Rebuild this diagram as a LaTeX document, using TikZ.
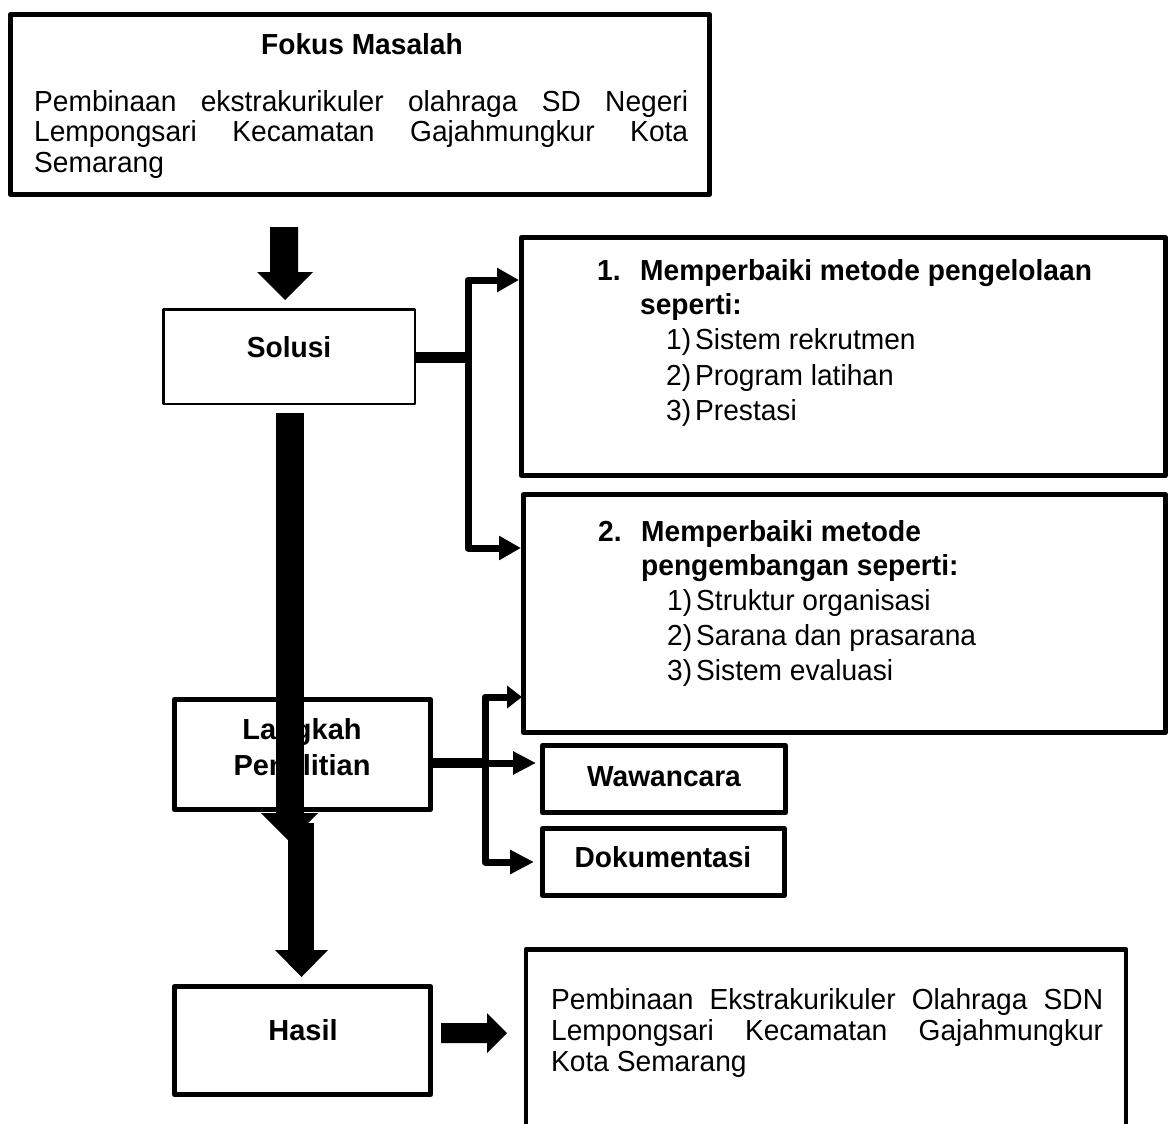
\documentclass[tikz,border=0pt]{standalone}
\usepackage{fontspec}
\setmainfont{Liberation Sans}
\newfontfamily\fstretch[FakeStretch=0.97]{Liberation Sans}
\usetikzlibrary{arrows.meta}
\newcommand\myfa{\fstretch\fontsize{29}{34}\selectfont}
\newcommand\myfb{\fontsize{29}{34}\selectfont}
\tikzset{
  box/.style={draw, line width=5pt, inner sep=0pt, line join=round, fill=white},
  lbl/.style={inner sep=0pt, font=\myfa},
  lblb/.style={inner sep=0pt, font=\myfb\bfseries},
  blk/.style={fill=black, draw=none},
  conn/.style={line width=7pt, line join=round},
}
\begin{document}
\begin{tikzpicture}[x=1pt,y=-1pt]
\useasboundingbox (0,0) rectangle (1171,1124);
\fill[white] (0,0) rectangle (1171,1124);

% boxes
\node[box, minimum width=699pt, minimum height=180pt] (fokus) at (360,104.5) {};
\node[box, line width=2.5pt, minimum width=251.5pt, minimum height=94.5pt] (solusi) at (289,356.5) {};
\node[box, minimum width=644pt, minimum height=238pt] (b1) at (843.5,356.5) {};
\node[box, minimum width=642pt, minimum height=238pt] (b2) at (844.5,613.5) {};
\node[box, minimum width=256pt, minimum height=110pt] (langkah) at (302.5,754.5) {};
\node[box, minimum width=243pt, minimum height=67pt] (waw) at (664,779) {};
\node[box, minimum width=242pt, minimum height=67pt] (dok) at (663.5,862) {};
\node[box, minimum width=256pt, minimum height=108pt] (hasil) at (302.5,1040.5) {};
\node[box, line width=4.5pt, minimum width=600pt, minimum height=220pt, anchor=north] (res) at (826,947) {};

% Fokus text
\node[lbl, anchor=base] (tfokus) at (362,55) {\bfseries Fokus Masalah};
\node[lbl, anchor=base west] (f1) at (34,112) {\makebox[654pt][s]{Pembinaan ekstrakurikuler olahraga SD Negeri}};
\node[lbl, anchor=base west] (f2) at (34,142) {\makebox[654pt][s]{Lempongsari Kecamatan Gajahmungkur Kota}};
\node[lbl, anchor=base west] (f3) at (34,172) {Semarang};

% Solusi
\node[lbl, anchor=base] (tsolusi) at (289,357) {\bfseries Solusi};

% Box 1 text
\node[lbl, anchor=base west] (a1) at (597,280) {\bfseries\makebox[43pt][l]{1.}Memperbaiki metode pengelolaan};
\node[lbl, anchor=base west] (a2) at (640,314) {\bfseries seperti:};
\node[lbl, anchor=base west] (a3) at (666,349) {\makebox[29pt][l]{1)}Sistem rekrutmen};
\node[lbl, anchor=base west] (a4) at (666,385) {\makebox[29pt][l]{2)}Program latihan};
\node[lbl, anchor=base west] (a5) at (666,420) {\makebox[29pt][l]{3)}Prestasi};

% Box 2 text
\node[lbl, anchor=base west] (c1) at (598,541) {\bfseries\makebox[43pt][l]{2.}Memperbaiki metode};
\node[lbl, anchor=base west] (c2) at (641,575) {\bfseries pengembangan seperti:};
\node[lbl, anchor=base west] (c3) at (667,610) {\makebox[29pt][l]{1)}Struktur organisasi};
\node[lbl, anchor=base west] (c4) at (667,645) {\makebox[29pt][l]{2)}Sarana dan prasarana};
\node[lbl, anchor=base west] (c5) at (667,680) {\makebox[29pt][l]{3)}Sistem evaluasi};

% Langkah
\node[lblb, anchor=base] (tl1) at (302,739) {Langkah};
\node[lblb, anchor=base] (tl2) at (302,775) {Penelitian};

% Wawancara, Dokumentasi
\node[lbl, anchor=base] (tw) at (664,786) {\bfseries Wawancara};
\node[lbl, anchor=base] (td) at (663,867) {\bfseries Dokumentasi};

% Hasil
\node[lblb, anchor=base] (th) at (303,1040) {Hasil};

% Result text
\node[lbl, anchor=base west] (r1) at (551,1009) {\makebox[552pt][s]{Pembinaan Ekstrakurikuler Olahraga SDN}};
\node[lbl, anchor=base west] (r2) at (551,1040) {\makebox[552pt][s]{Lempongsari Kecamatan Gajahmungkur}};
\node[lbl, anchor=base west] (r3) at (551,1071) {Kota Semarang};

% block arrow Fokus -> Solusi
\fill[blk] (270,227) -- (298,227) -- (298,272) -- (313,272) -- (285,300) -- (257,272) -- (270,272) -- cycle;

% Solusi connectors
\coordinate (s0) at (468,357);
\coordinate (s1) at (468,280);
\coordinate (s2) at (468,548);
\draw[line width=11pt] (solusi.east |- s0) -- ([xshift=3.5pt]s0);
\draw[conn, {Triangle[length=22pt,width=23pt]}-{Triangle[length=22pt,width=23pt]}]
  (b1.west |- s1) -- (s1) -- (s2) -- (b2.west |- s2);

% Langkah connectors
\coordinate (l0) at (485,763);
\coordinate (l1) at (485,697);
\coordinate (l2) at (485,862);
\draw[line width=10pt] (langkah.east |- l0) -- (l0);
\draw[conn, {Triangle[length=15pt,width=22pt]}-{Triangle[length=24pt,width=23pt]}]
  ([xshift=1pt]b2.west |- l1) -- (l1) -- (l2) -- ([xshift=-6pt]dok.west |- l2);
\draw[conn, -{Triangle[length=23pt,width=22pt]}] (l0) -- ([xshift=-4pt]waw.west |- l0);

% long block arrow Solusi -> Langkah -> Hasil
\fill[blk] (276,413) rectangle (304,813);
\fill[blk] (261,813) -- (318,813) -- (289.5,841.5) -- cycle;
\fill[blk] (288,823) rectangle (314,950);
\fill[blk] (275,950) -- (328,950) -- (301.5,977) -- cycle;

% Hasil -> result
\fill[blk] (441,1023) -- (487,1023) -- (487,1013) -- (507,1033) -- (487,1053) -- (487,1043) -- (441,1043) -- cycle;
\end{tikzpicture}
\end{document}
